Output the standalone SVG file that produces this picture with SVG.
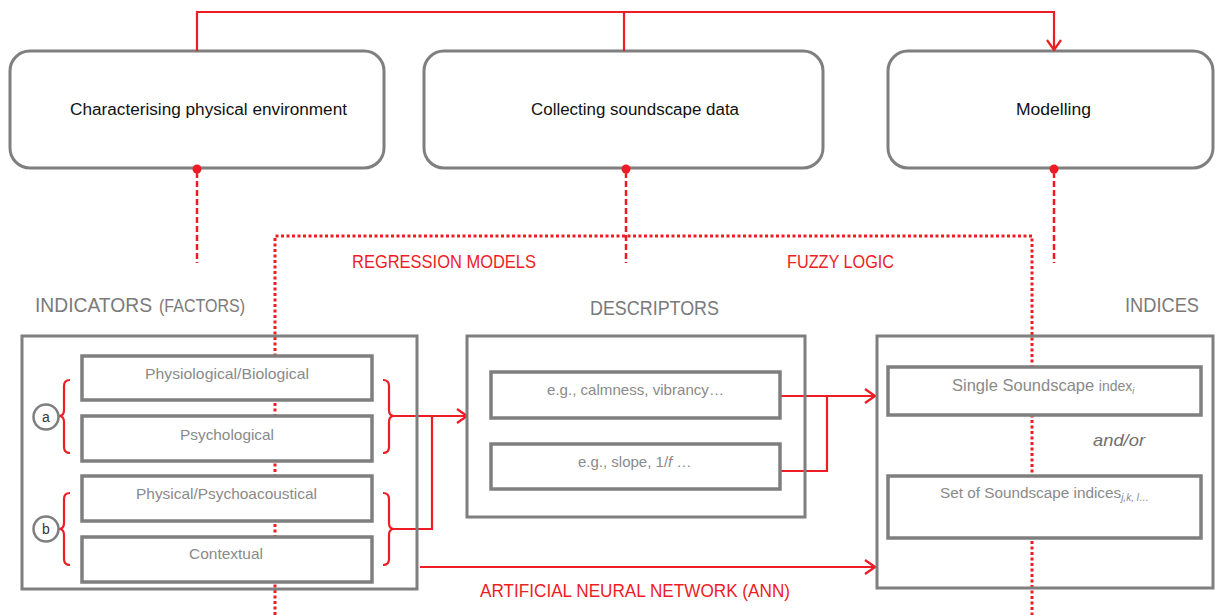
<svg xmlns="http://www.w3.org/2000/svg" width="1215" height="615" viewBox="0 0 1215 615">
<defs>
<marker id="arr" viewBox="0 0 12 16" refX="11" refY="8" markerWidth="12" markerHeight="16" markerUnits="userSpaceOnUse" orient="auto">
<path d="M1,1 L11,8 L1,15" fill="none" stroke="#ee1c25" stroke-width="2.2"/>
</marker>
<style>
.top{fill:#fff;stroke:#7f7f7f;stroke-width:3}
.outer{fill:none;stroke:#7f7f7f;stroke-width:3}
.inner{fill:#fff;stroke:#7f7f7f;stroke-width:3.5}
.red{fill:none;stroke:#ee1c25;stroke-width:2.2}
.dash{fill:none;stroke:#ee1c25;stroke-width:2.5;stroke-dasharray:6 3}
.dot{fill:none;stroke:#ee1c25;stroke-width:3;stroke-dasharray:3 2.5}
.t{font-family:"Liberation Sans",Arial,sans-serif}
.blk{fill:#111;font-size:16px}
.hd{fill:#7a7a7a}
.in{fill:#8a8a8a;font-size:15px}
.rl{fill:#ee1c25;font-size:18px}
</style>
</defs>
<rect width="1215" height="615" fill="#fff"/>

<g id="node-characterising">
<rect class="top" x="10" y="51" width="374" height="117" rx="20"/>
<text class="t blk" x="70" y="115" textLength="277" lengthAdjust="spacingAndGlyphs">Characterising physical environment</text>
</g>
<g id="node-collecting">
<rect class="top" x="424" y="51" width="399" height="117" rx="20"/>
<text class="t blk" x="531" y="115" textLength="208" lengthAdjust="spacingAndGlyphs">Collecting soundscape data</text>
</g>
<g id="node-modelling">
<rect class="top" x="888" y="51" width="325" height="117" rx="20"/>
<text class="t blk" x="1016" y="115" textLength="75" lengthAdjust="spacingAndGlyphs">Modelling</text>
</g>

<g id="connectors">
<path class="red" d="M197,51 V12 H1054 V50" marker-end="url(#arr)"/>
<path class="red" d="M624,12 V51"/>
<circle cx="197" cy="169" r="4.5" fill="#ee1c25"/>
<circle cx="626" cy="169" r="4.5" fill="#ee1c25"/>
<circle cx="1054" cy="169" r="4.5" fill="#ee1c25"/>
<path class="dash" d="M197,172 V263"/>
<path class="dash" d="M626,172 V263"/>
<path class="dash" d="M1054,172 V263"/>
<path class="dot" d="M275,615 V236 H1032 V615"/>
<path class="red" d="M70,380 Q64,380 64,386 V410 Q64,416 59,416 Q64,416 64,422 V447 Q64,453 70,453"/>
<path class="red" d="M70,493 Q64,493 64,499 V523 Q64,529 59,529 Q64,529 64,535 V559 Q64,565 70,565"/>
<path class="red" d="M383,380 Q389,380 389,386 V410 Q389,416 394,416 Q389,416 389,422 V447 Q389,453 383,453"/>
<path class="red" d="M383,493 Q389,493 389,499 V523 Q389,529 394,529 Q389,529 389,535 V559 Q389,565 383,565"/>
<path class="red" d="M394,416 H467" marker-end="url(#arr)"/>
<path class="red" d="M394,529 H432 V416"/>
<path class="red" d="M780,396 H875" marker-end="url(#arr)"/>
<path class="red" d="M777,471 H827 V395"/>
<path class="red" d="M420,567 H875" marker-end="url(#arr)"/>
<text class="t rl" x="352" y="268" textLength="184" lengthAdjust="spacingAndGlyphs">REGRESSION MODELS</text>
<text class="t rl" x="787" y="268" textLength="107" lengthAdjust="spacingAndGlyphs">FUZZY LOGIC</text>
<text class="t rl" x="480" y="597" textLength="310" lengthAdjust="spacingAndGlyphs">ARTIFICIAL NEURAL NETWORK (ANN)</text>
</g>

<g id="node-indicators">
<text class="t hd" x="35" y="312" font-size="21"><tspan textLength="117" lengthAdjust="spacingAndGlyphs">INDICATORS</tspan><tspan x="159" font-size="18" textLength="86" lengthAdjust="spacingAndGlyphs">(FACTORS)</tspan></text>
<rect class="outer" x="22" y="336" width="395" height="253"/>
<rect class="inner" x="82" y="356" width="290" height="44"/>
<rect class="inner" x="82" y="416" width="290" height="45"/>
<rect class="inner" x="82" y="476" width="290" height="45"/>
<rect class="inner" x="82" y="537" width="290" height="45"/>
<text class="t in" x="145" y="379" textLength="164" lengthAdjust="spacingAndGlyphs">Physiological/Biological</text>
<text class="t in" x="180" y="440" textLength="94" lengthAdjust="spacingAndGlyphs">Psychological</text>
<text class="t in" x="136" y="499" textLength="181" lengthAdjust="spacingAndGlyphs">Physical/Psychoacoustical</text>
<text class="t in" x="189" y="559" textLength="74" lengthAdjust="spacingAndGlyphs">Contextual</text>
</g>
<g id="node-a">
<circle cx="46" cy="417" r="12.5" fill="#fff" stroke="#7f7f7f" stroke-width="2.5"/>
<text class="t" x="46" y="422" font-size="14" fill="#333" text-anchor="middle">a</text>
</g>
<g id="node-b">
<circle cx="46" cy="529" r="12.5" fill="#fff" stroke="#7f7f7f" stroke-width="2.5"/>
<text class="t" x="46" y="534" font-size="14" fill="#333" text-anchor="middle">b</text>
</g>

<g id="node-descriptors">
<text class="t hd" x="590" y="315" font-size="20" textLength="129" lengthAdjust="spacingAndGlyphs">DESCRIPTORS</text>
<rect class="outer" x="467" y="336" width="338" height="181"/>
<rect class="inner" x="491" y="372" width="289" height="46"/>
<rect class="inner" x="491" y="444" width="289" height="45"/>
<text class="t in" x="547" y="395" textLength="177" lengthAdjust="spacingAndGlyphs">e.g., calmness, vibrancy…</text>
<text class="t in" x="578" y="467">e.g., slope, 1/<tspan font-style="italic">f</tspan> …</text>
</g>

<g id="node-indices">
<text class="t hd" x="1125" y="312" font-size="20" textLength="74" lengthAdjust="spacingAndGlyphs">INDICES</text>
<rect class="outer" x="877" y="336" width="336" height="252"/>
<rect class="inner" x="888" y="367" width="313" height="48"/>
<rect class="inner" x="888" y="476" width="313" height="62"/>
<text class="t" x="952" y="391" style="fill:#8a8a8a;font-size:16.5px">Single Soundscape <tspan style="font-size:14px">index</tspan><tspan style="font-size:9px;font-style:italic" dy="3">i</tspan></text>
<text class="t" x="1093" y="446" font-size="17" font-style="italic" fill="#6f6f6f" textLength="52" lengthAdjust="spacingAndGlyphs">and/or</text>
<text class="t" x="940" y="498" style="fill:#8a8a8a;font-size:15.3px">Set of Soundscape indices<tspan style="font-size:10px;font-style:italic" dy="3">j,k, l…</tspan></text>
</g>
</svg>
